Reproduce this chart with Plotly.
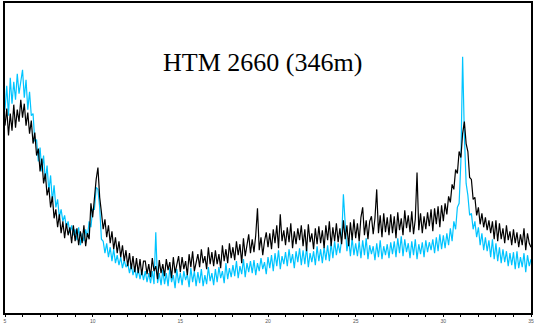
import plotly.graph_objects as go

# 2-theta positions (degrees), 0.1 deg step from 5 to 35
two_theta = [round(5 + i * 0.1, 1) for i in range(301)]

# intensities (arbitrary units)
black_counts = [
    188, 205, 178, 200, 183, 209, 186, 204, 192, 214,
    196, 210, 188, 201, 180, 193, 170, 181, 158, 165,
    142, 155, 130, 140, 118, 126, 106, 117, 95, 104,
    86, 99, 80, 92, 75, 90, 78, 86, 70, 88,
    72, 85, 68, 82, 70, 88, 67, 80, 74, 110,
    96, 120, 134, 146, 116, 101, 84, 94, 76, 88,
    70, 82, 64, 76, 60, 72, 56, 68, 52, 63,
    47, 60, 44, 57, 41, 55, 40, 54, 38, 52,
    52, 39, 49, 36, 55, 42, 47, 34, 53, 40,
    49, 37, 54, 43, 51, 35, 56, 40, 48, 57,
    41, 56, 44, 52, 38, 59, 46, 62, 42, 50,
    59, 46, 64, 50, 57, 44, 66, 49, 61, 47,
    63, 49, 59, 45, 68, 52, 64, 50, 70, 55,
    66, 53, 72, 58, 69, 50, 75, 57, 70, 79,
    60, 74, 61, 78, 105, 63, 76, 58, 72, 81,
    66, 80, 64, 84, 70, 88, 65, 99, 72, 83,
    68, 86, 71, 90, 65, 82, 69, 85, 73, 88,
    67, 84, 62, 89, 71, 80, 64, 85, 69, 87,
    70, 83, 65, 88, 73, 92, 67, 86, 72, 90,
    71, 85, 69, 93, 74, 88, 67, 91, 73, 94,
    75, 90, 72, 96, 106, 78, 93, 74, 92, 97,
    79, 95, 124, 80, 98, 76, 100, 81, 96, 78,
    99, 80, 97, 75, 101, 83, 95, 78, 103, 85,
    98, 81, 102, 79, 94, 141, 83, 100, 80, 97,
    84, 101, 87, 104, 82, 105, 89, 107, 86, 108,
    92, 110, 99, 117, 111, 129, 124, 144, 140, 162,
    156, 180, 192, 170, 162, 136, 134, 114, 116, 98,
    106, 89, 100, 86, 96, 83, 93, 80, 92, 74,
    93, 72, 90, 74, 85, 70, 88, 73, 82, 68,
    84, 70, 81, 66, 79, 68, 85, 63, 80, 70,
    66,
]

cyan_counts = [
    204, 228, 198, 236, 210, 232, 214, 240, 220, 234,
    244, 216, 234, 204, 222, 198, 200, 172, 174, 152,
    166, 142, 158, 132, 148, 122, 138, 112, 128, 106,
    114, 96, 104, 92, 98, 86, 92, 80, 88, 78,
    84, 73, 86, 68, 80, 72, 84, 76, 92, 86,
    104, 104, 126, 124, 106, 74, 72, 60, 70, 56,
    66, 52, 64, 50, 58, 48, 56, 45, 53, 46,
    50, 40, 49, 38, 46, 35, 44, 34, 43, 33,
    42, 31, 40, 30, 42, 29, 81, 30, 40, 28,
    43, 29, 40, 27, 45, 31, 38, 25, 44, 30,
    40, 28, 42, 33, 39, 26, 45, 31, 42, 27,
    41, 30, 44, 27, 38, 29, 46, 32, 40, 28,
    44, 31, 46, 35, 42, 30, 50, 34, 45, 36,
    48, 37, 52, 35, 47, 39, 54, 36, 50, 41,
    52, 40, 53, 38, 50, 42, 55, 44, 51, 39,
    56, 45, 58, 42, 60, 47, 63, 44, 57, 49,
    61, 47, 64, 50, 59, 45, 62, 51, 65, 48,
    63, 49, 66, 46, 60, 51, 62, 48, 67, 52,
    64, 50, 66, 53, 68, 52, 70, 55, 72, 58,
    70, 60, 74, 119, 84, 62, 74, 57, 75, 58,
    70, 57, 72, 55, 73, 58, 75, 54, 68, 59,
    67, 53, 70, 56, 73, 54, 67, 58, 69, 55,
    71, 59, 72, 56, 75, 60, 77, 57, 74, 61,
    70, 55, 72, 58, 74, 54, 69, 59, 71, 56,
    73, 61, 71, 63, 74, 60, 76, 62, 79, 64,
    78, 65, 80, 68, 85, 72, 92, 84, 106, 110,
    152, 257, 178, 130, 118, 98, 100, 84, 92, 76,
    86, 68, 80, 63, 76, 62, 73, 56, 74, 54,
    70, 52, 66, 50, 64, 51, 62, 47, 60, 48,
    61, 44, 62, 45, 56, 46, 60, 41, 58, 47,
    54,
]

tick_values = [5, 10, 15, 20, 25, 30, 35]
tick_labels = ["5", "10", "15", "20", "25", "30", "35"]
title_text = "HTM 2660 (346m)"

fig = go.Figure()
fig.add_trace(go.Scatter(x=two_theta, y=cyan_counts, mode="lines",
                         line=dict(color="#00C4FF", width=1.2),
                         showlegend=False, hoverinfo="skip"))
fig.add_trace(go.Scatter(x=two_theta, y=black_counts, mode="lines",
                         line=dict(color="#000000", width=1.2),
                         showlegend=False, hoverinfo="skip"))

fig.add_annotation(text=title_text, x=0.489, y=0.807, xref="paper", yref="paper",
                   showarrow=False, xanchor="center", yanchor="middle",
                   font=dict(family="Liberation Serif, Times New Roman, serif",
                             size=26, color="black"))

fig.update_layout(
    width=534, height=324,
    margin=dict(l=5, r=3, t=3, b=11, autoexpand=False),
    paper_bgcolor="white", plot_bgcolor="white",
    xaxis=dict(range=[5, 35], tickmode="array", tickvals=tick_values,
               ticktext=tick_labels, ticks="outside", ticklen=2, tickwidth=1,
               tickcolor="black", showline=True, linecolor="black", linewidth=1.5,
               mirror=True, showgrid=False, zeroline=False, automargin=False,
               tickfont=dict(size=5, color="#555", family="Liberation Sans, Arial"),
               minor=dict(ticks="outside", ticklen=2, dtick=1, tickcolor="black",
                          tick0=5, showgrid=False)),
    yaxis=dict(range=[0, 311], showline=True, linecolor="black", linewidth=1.5,
               mirror=True, showgrid=False, zeroline=False, showticklabels=False,
               ticks=""),
)

fig.write_html("out.html", config={"displayModeBar": False},
               post_script="document.body.style.margin='0';document.body.style.padding='0';")
